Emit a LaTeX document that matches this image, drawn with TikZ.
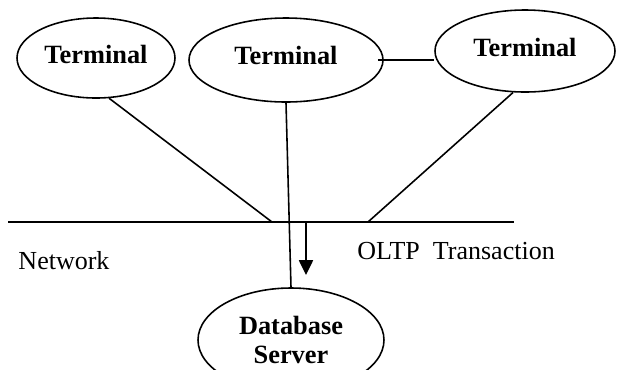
\documentclass[tikz,border=0pt]{standalone}
\usepackage{fontspec}
\setmainfont{Liberation Serif}
\usetikzlibrary{shapes.geometric,arrows.meta}

\begin{document}
\begin{tikzpicture}[font=\fontsize{7.4}{8.3}\selectfont, line width=0.45pt,
	box/.style={ellipse, draw, inner sep=0pt, font=\fontsize{7.5}{8.3}\selectfont\bfseries}]
	\useasboundingbox (0,0) rectangle (6.17,-3.69);
	\node[box, text depth=0.08cm, minimum width=1.58cm, minimum height=0.80cm] (t1) at (0.96,-0.58) {Terminal};
	\node[box, text depth=0.1cm, minimum width=1.94cm, minimum height=0.84cm] (t2) at (2.86,-0.60) {Terminal};
	\node[box, text depth=0.08cm, minimum width=1.80cm, minimum height=0.82cm] (t3) at (5.25,-0.51) {Terminal};
	\node[box, minimum width=1.86cm, minimum height=1.04cm, align=center] (db) at (2.91,-3.40) {Database\\Server};
	\coordinate (nw) at (0.08,-2.22);
	\coordinate (ne) at (5.14,-2.22);
	\coordinate (n1) at (2.72,-2.22);
	\coordinate (n3) at (3.68,-2.22);
	\coordinate (tx) at (3.06,-2.22);
	\coordinate (rx) at (3.06,-2.75);
	\draw (nw) -- (ne);
	\draw (t1.288) -- (n1);
	\draw (t3.254) -- (n3);
	\draw (t2.south) -- (db.north);
	\draw ([xshift=-0.06cm]t2.east) -- (t3.west |- t2.east);
	\draw[-{Triangle[width=4pt,length=4.2pt]}] (tx) -- (rx);
	\node (net) at (0.64,-2.61) {Network};
	\node (oltp) at (4.56,-2.51) {OLTP\ \ Transaction};
\end{tikzpicture}
\end{document}
